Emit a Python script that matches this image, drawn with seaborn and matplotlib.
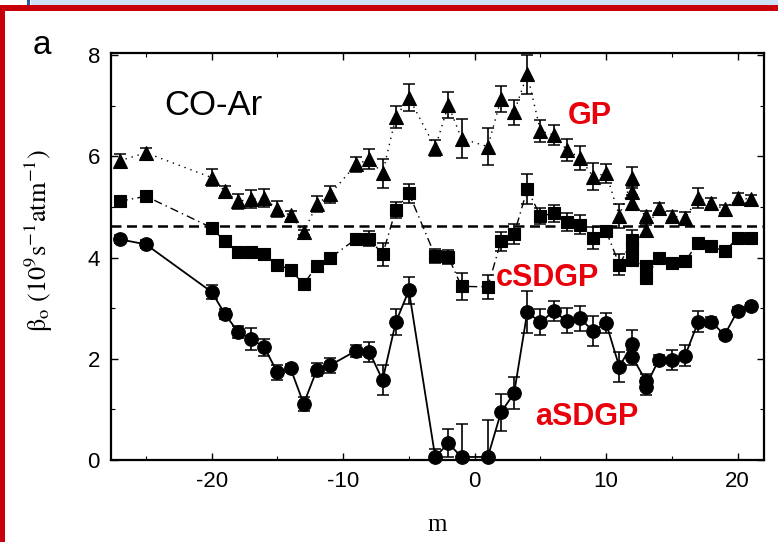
import numpy as np
import pandas as pd
import matplotlib
matplotlib.use("Agg")
import matplotlib.pyplot as plt
import seaborn as sns
from matplotlib.patches import Rectangle

# ---------------- data ----------------
m_gp = [-27, -25, -20, -19, -18, -17, -16, -15, -14, -13, -12, -11, -9, -8, -7, -6, -5,
        -3, -2, -1, 1, 2, 3, 4, 5, 6, 7, 8, 9, 10, 11, 12, 12, 12, 13, 13,
        14, 15, 16, 17, 18, 19, 20, 21]
b_gp = [5.91, 6.07, 5.58, 5.31, 5.11, 5.15, 5.17, 4.96, 4.83, 4.50, 5.05, 5.25,
        5.84, 5.94, 5.66, 6.77, 7.16, 6.17, 7.01, 6.35,
        6.19, 7.13, 6.87, 7.62, 6.50, 6.42, 6.13, 5.97, 5.60, 5.66, 4.82,
        5.58, 5.30, 5.08, 4.82, 4.55, 4.98, 4.82, 4.78, 5.18, 5.08, 4.95, 5.18, 5.15]
e_gp = [0.13, 0.10, 0.17, 0.10, 0.15, 0.18, 0.18, 0.15, 0.08, 0.05, 0.16, 0.17,
        0.15, 0.20, 0.28, 0.22, 0.26, 0.16, 0.26, 0.38,
        0.36, 0.26, 0.25, 0.39, 0.22, 0.20, 0.22, 0.24, 0.26, 0.18, 0.23,
        0.20, 0.12, 0.15, 0.10, 0.10, 0.10, 0.10, 0.12, 0.20, 0.10, 0.08, 0.10, 0.08]

m_cs = [-27, -25, -20, -19, -18, -17, -16, -15, -14, -13, -12, -11, -9, -8, -7, -6, -5,
        -3, -2, -1, 1, 2, 3, 4, 5, 6, 7, 8, 9, 10, 11, 12, 12, 12, 13, 13,
        14, 15, 16, 17, 18, 19, 20, 21]
b_cs = [5.11, 5.21, 4.59, 4.32, 4.10, 4.10, 4.06, 3.86, 3.76, 3.47, 3.84, 3.99,
        4.37, 4.37, 4.06, 4.94, 5.27, 4.03, 4.01, 3.43,
        3.42, 4.32, 4.46, 5.35, 4.82, 4.87, 4.70, 4.65, 4.39, 4.52, 3.86,
        4.34, 4.16, 3.95, 3.83, 3.60, 3.99, 3.89, 3.93, 4.29, 4.22, 4.12, 4.39, 4.39]
e_cs = [0.08, 0.08, 0.08, 0.08, 0.10, 0.10, 0.10, 0.08, 0.08, 0.08, 0.08, 0.08,
        0.10, 0.15, 0.22, 0.15, 0.19, 0.13, 0.13, 0.26,
        0.24, 0.19, 0.20, 0.30, 0.15, 0.16, 0.17, 0.18, 0.22, 0.11, 0.20,
        0.20, 0.10, 0.10, 0.10, 0.10, 0.08, 0.08, 0.08, 0.10, 0.08, 0.08, 0.08, 0.08]

m_as = [-27, -25, -20, -19, -18, -17, -16, -15, -14, -13, -12, -11, -9, -8, -7, -6, -5,
        -3, -2, -1, 1, 2, 3, 4, 5, 6, 7, 8, 9, 10, 11, 12, 12, 13, 13,
        14, 15, 16, 17, 18, 19, 20, 21]
b_as = [4.36, 4.26, 3.32, 2.89, 2.53, 2.39, 2.23, 1.73, 1.81, 1.11, 1.78, 1.87,
        2.16, 2.13, 1.58, 2.72, 3.35, 0.06, 0.33, 0.06,
        0.06, 0.94, 1.32, 2.92, 2.72, 2.94, 2.75, 2.80, 2.55, 2.70, 1.84,
        2.30, 2.03, 1.57, 1.45, 1.98, 1.97, 2.06, 2.73, 2.73, 2.47, 2.95, 3.04]
e_as = [0.08, 0.08, 0.13, 0.10, 0.12, 0.21, 0.17, 0.15, 0.08, 0.14, 0.13, 0.15,
        0.12, 0.20, 0.30, 0.26, 0.26, 0.15, 0.28, 0.66,
        0.74, 0.36, 0.32, 0.41, 0.26, 0.20, 0.25, 0.25, 0.29, 0.20, 0.30,
        0.26, 0.15, 0.12, 0.17, 0.10, 0.20, 0.21, 0.21, 0.10, 0.08, 0.08, 0.06]

ref_level = 4.62
x_ticks = [-20, -10, 0, 10, 20]
y_ticks = [0, 2, 4, 6, 8]

# ---------------- style ----------------
sns.set_style("ticks")
plt.rcParams["font.family"] = ["Liberation Sans", "DejaVu Sans"]
plt.rcParams["mathtext.fontset"] = "stix"
plt.rcParams["text.color"] = "black"
plt.rcParams["axes.labelcolor"] = "black"

fig = plt.figure(figsize=(7.78, 5.42), dpi=100)
ax = fig.add_axes([111 / 778, 1 - 460 / 542, (764 - 111) / 778, (460 - 53) / 542])

series = [
    (m_gp, b_gp, e_gp, "^", 9.5, (0, (1, 3.5)), 1.0),
    (m_cs, b_cs, e_cs, "s", 8.3, (0, (6, 3, 1, 3)), 1.0),
    (m_as, b_as, e_as, "o", 9.8, "-", 1.3),
]
for m, b, e, mk, ms, ls, lw in series:
    df = pd.DataFrame({"m": m, "beta": b})
    ax.errorbar(m, b, yerr=e, fmt="none", ecolor="black", elinewidth=1.2,
                capsize=4.5, capthick=1.1, zorder=2)
    sns.lineplot(data=df, x="m", y="beta", sort=False, estimator=None, ax=ax,
                 color="black", linestyle=ls, linewidth=lw, marker=mk,
                 markersize=ms, markeredgecolor="black", markeredgewidth=0.8,
                 clip_on=False, zorder=3)

ax.axhline(ref_level, color="black", linestyle=(0, (4, 2.2)), linewidth=1.8, zorder=1)

ax.set_xlim(-27.65, 22.0)
ax.set_ylim(0, 8.04)
ax.set_xticks(x_ticks)
ax.set_xticks([-25, -15, -5, 5, 15], minor=True)
ax.set_yticks(y_ticks)
ax.set_yticks([1, 3, 5, 7], minor=True)
ax.set_xticklabels([str(t) for t in x_ticks])
ax.tick_params(which="both", direction="in", top=True, right=True,
               labelsize=16, colors="black", pad=8)
ax.tick_params(which="major", length=5, width=1.0)
ax.tick_params(which="minor", length=3, width=0.8)
for s in ax.spines.values():
    s.set_linewidth(1.6)
    s.set_color("black")

ax.set_xlabel("m", family="Liberation Serif", fontsize=18, labelpad=16)
ax.set_ylabel(r"$\mathrm{\beta_o\ (10^{9}s^{-1}atm^{-1})}$", fontsize=19)
ax.yaxis.set_label_coords(-0.085, 0.54)

ax.text(-23.6, 7.0, "CO-Ar", fontsize=25, ha="left", va="center")
ax.text(7.1, 6.8, "GP", fontsize=22, color="#e8000b", fontweight="bold", ha="left", va="center")
ax.text(1.6, 3.6, "cSDGP", fontsize=22, color="#e8000b", fontweight="bold", ha="left", va="center")
ax.text(4.6, 0.84, "aSDGP", fontsize=22, color="#e8000b", fontweight="bold", ha="left", va="center")

fig.text(33 / 778, 1 - 45 / 542, "a", fontsize=24, ha="left", va="center")

# frame decorations of the source image
fig.patches.append(Rectangle((31 / 778, 1 - 6 / 542), 1, 6 / 542, transform=fig.transFigure,
                             facecolor="#cfe1f6", edgecolor="none"))
fig.patches.append(Rectangle((27 / 778, 1 - 6 / 542), 3 / 778, 6 / 542, transform=fig.transFigure,
                             facecolor="#1f5ea8", edgecolor="none"))
fig.patches.append(Rectangle((0, 1 - 11 / 542), 1, 5.5 / 542, transform=fig.transFigure,
                             facecolor="#c8000a", edgecolor="none"))
fig.patches.append(Rectangle((0, 0), 5 / 778, 1 - 6 / 542, transform=fig.transFigure,
                             facecolor="#c8000a", edgecolor="none"))

fig.savefig("out.png", dpi=100)
